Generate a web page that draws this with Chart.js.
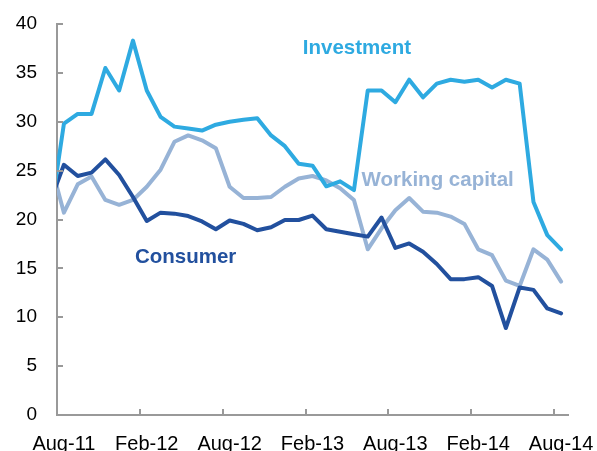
<!DOCTYPE html>
<html>
<head>
<meta charset="utf-8">
<script src="https://cdn.jsdelivr.net/npm/chart.js@4"></script>
<style>
  body { margin: 0; background: #fff; }
  #chart { display: block; }
</style>
</head>
<body>
<canvas id="chart" width="597" height="451"></canvas>
<script>
// months, Jul-11 sits just left of the axis and is clipped
const months = [
  'Jul-11', 'Aug-11', 'Sep-11', 'Oct-11', 'Nov-11', 'Dec-11', 'Jan-12', 'Feb-12',
  'Mar-12', 'Apr-12', 'May-12', 'Jun-12', 'Jul-12', 'Aug-12', 'Sep-12', 'Oct-12',
  'Nov-12', 'Dec-12', 'Jan-13', 'Feb-13', 'Mar-13', 'Apr-13', 'May-13', 'Jun-13',
  'Jul-13', 'Aug-13', 'Sep-13', 'Oct-13', 'Nov-13', 'Dec-13', 'Jan-14', 'Feb-14',
  'Mar-14', 'Apr-14', 'May-14', 'Jun-14', 'Jul-14', 'Aug-14'
];

const investment = [
  20.2, 29.8, 30.8, 30.8, 35.5, 33.2, 38.3, 33.2, 30.5, 29.5, 29.3, 29.1, 29.7,
  30.0, 30.2, 30.35, 28.6, 27.5, 25.7, 25.5, 23.4, 23.9, 23.0, 33.2, 33.2, 32.0,
  34.3, 32.5, 33.9, 34.3, 34.1, 34.3, 33.5, 34.3, 33.9, 21.8, 18.4, 16.95
];

const consumer = [
  21.8, 25.6, 24.45, 24.8, 26.15, 24.55, 22.3, 19.85, 20.7, 20.6, 20.35, 19.8, 19.0,
  19.9, 19.55, 18.9, 19.2, 19.95, 19.95, 20.4, 19.0, 18.75, 18.5, 18.25, 20.2, 17.1,
  17.55, 16.7, 15.45, 13.9, 13.9, 14.1, 13.2, 8.9, 13.05, 12.8, 10.9, 10.4
];

const workingCapital = [
  25.9, 20.7, 23.6, 24.4, 22.0, 21.5, 22.0, 23.35, 25.1, 27.95, 28.6, 28.1, 27.3,
  23.35, 22.2, 22.2, 22.3, 23.35, 24.2, 24.45, 24.0, 23.2, 22.0, 16.95, 19.1, 20.95,
  22.2, 20.8, 20.7, 20.3, 19.55, 16.95, 16.35, 13.75, 13.2, 16.95, 15.9, 13.65
];

const colors = {
  investment: '#2eaae1',
  consumer: '#22509e',
  workingCapital: '#97b3d6',
  axis: '#999999',
};

// in-chart series names, anchored in data units (x = month index)
const seriesLabels = [
  { text: 'Investment', x: 18.3, y: 37.5, color: colors.investment },
  { text: 'Working capital', x: 22.55, y: 24.0, color: colors.workingCapital },
  { text: 'Consumer', x: 6.14, y: 16.1, color: colors.consumer },
];

const seriesLabelPlugin = {
  id: 'seriesLabels',
  afterDatasetsDraw(chart) {
    const { ctx, scales } = chart;
    ctx.save();
    ctx.font = 'bold 20.5px "Liberation Sans", Arial, sans-serif';
    ctx.textAlign = 'left';
    ctx.textBaseline = 'middle';
    seriesLabels.forEach((l) => {
      ctx.fillStyle = l.color;
      ctx.fillText(l.text, scales.x.getPixelForValue(l.x), scales.y.getPixelForValue(l.y));
    });
    ctx.restore();
  },
};

// Excel style tick marks pointing into the plot
const innerTicksPlugin = {
  id: 'innerTicks',
  afterDraw(chart) {
    const { ctx, scales, chartArea } = chart;
    const len = 6;
    ctx.save();
    ctx.strokeStyle = colors.axis;
    ctx.lineWidth = 2;
    ctx.beginPath();
    scales.y.ticks.forEach((t, i) => {
      const py = Math.round(scales.y.getPixelForTick(i));
      ctx.moveTo(chartArea.left, py);
      ctx.lineTo(chartArea.left + len, py);
    });
    scales.x.ticks.forEach((t, i) => {
      if (i === 0 || i % 6 !== 0) return;
      const px = Math.round((scales.x.getPixelForTick(i) + scales.x.getPixelForTick(i - 1)) / 2);
      ctx.moveTo(px, chartArea.bottom);
      ctx.lineTo(px, chartArea.bottom - len);
    });
    ctx.stroke();
    ctx.restore();
  },
};

const lineStyle = {
  borderWidth: 4,
  pointRadius: 0,
  tension: 0,
  fill: false,
  borderJoinStyle: 'round',
  borderCapStyle: 'round',
};

const hidden = 'rgba(0,0,0,0)';

new Chart(document.getElementById('chart'), {
  type: 'line',
  data: {
    labels: months,
    datasets: [
      { label: 'Investment', data: investment, borderColor: colors.investment, ...lineStyle },
      { label: 'Consumer', data: consumer, borderColor: colors.consumer, ...lineStyle },
      { label: 'Working capital', data: workingCapital, borderColor: colors.workingCapital, ...lineStyle },
    ],
  },
  options: {
    responsive: false,
    animation: false,
    layout: { padding: { top: 24, right: 29, bottom: 0, left: 0 } },
    plugins: {
      legend: { display: false },
      tooltip: { enabled: false },
    },
    scales: {
      x: {
        type: 'category',
        min: 'Aug-11',
        max: 'Aug-14',
        offset: true,
        afterFit: (scale) => { scale.height = 36; },
        border: { color: colors.axis, width: 2 },
        // invisible ticks only push the labels down
        grid: { offset: true, drawOnChartArea: false, tickLength: 17, tickColor: hidden },
        ticks: {
          autoSkip: false,
          maxRotation: 0,
          minRotation: 0,
          padding: 0,
          color: '#000',
          font: { family: '"Liberation Sans", Arial, sans-serif', size: 20 },
          callback: function (value, i) {
            return i % 6 === 0 ? this.getLabelForValue(value) : '';
          },
        },
      },
      y: {
        min: 0,
        max: 40,
        afterFit: (scale) => { scale.width = 57; },
        border: { color: colors.axis, width: 2 },
        grid: { drawOnChartArea: false, tickLength: 20, tickColor: hidden },
        ticks: {
          stepSize: 5,
          padding: 0,
          color: '#000',
          font: { family: '"Liberation Sans", Arial, sans-serif', size: 19 },
        },
      },
    },
  },
  plugins: [seriesLabelPlugin, innerTicksPlugin],
});
</script>
</body>
</html>
